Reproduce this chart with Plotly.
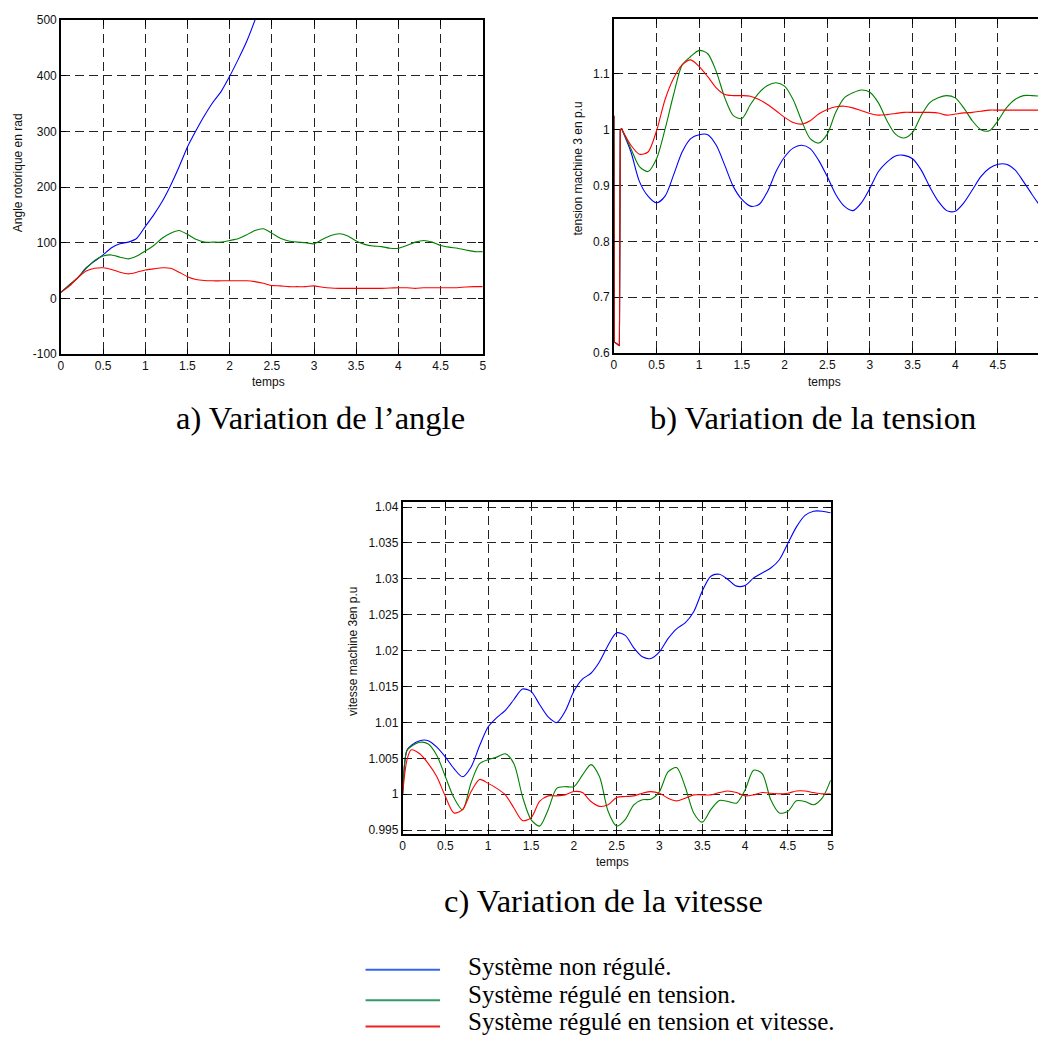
import plotly.graph_objects as go

# ---------------- data ----------------
# (a) rotor angle
t_a = [round(0.1 * i, 1) for i in range(51)]
t_a_blue = [0, 0.1, 0.2, 0.3, 0.4, 0.5, 0.6, 0.7, 0.8, 0.9, 1.0, 1.1, 1.2, 1.3, 1.4, 1.5,
            1.6, 1.7, 1.8, 1.9, 2.0, 2.1, 2.2, 2.3, 2.4]
angle_blue = [10.7, 24, 37, 55, 67, 78, 91, 98, 101, 108, 129, 150, 174, 203, 236, 272,
              301, 328, 352, 372, 399, 429, 461, 500, 545]
angle_green = [10.7, 24, 37, 54, 68, 76, 78, 74, 71, 76,
               85, 95, 108, 117, 122, 115, 106, 101, 101, 101,
               104, 107, 114, 122, 125, 117, 108, 103, 101, 100,
               98, 106, 113, 116, 112, 103, 97, 94, 93, 90,
               90, 95, 101, 104, 101, 95, 92, 90, 87, 84,
               84]
angle_red = [10.7, 22, 37, 49, 54, 55, 52, 47, 44, 47,
             51, 53, 55, 54, 47, 39, 34, 32, 31.5, 31.5,
             31.5, 31.5, 31.5, 30, 27, 23, 22.5, 21, 21, 21,
             22.5, 20, 18.5, 18, 18, 18, 18, 18, 18, 18.5,
             19, 19, 18, 19, 19, 19, 19, 19, 20.5, 21,
             21]

# (b) voltage of machine 3 : initial fault transient (common) + response
t_b_start = [0, 0.005, 0.065, 0.075, 0.09]
v_b_start = [1.025, 0.62, 0.613, 1.0, 1.002]
t_b = [0.09] + [round(0.1 * i, 1) for i in range(2, 51)]
volt_blue = [1.002, 0.96, 0.907, 0.881, 0.869, 0.881, 0.919, 0.96, 0.984, 0.991,
             0.991, 0.972, 0.936, 0.898, 0.875, 0.863, 0.866, 0.889, 0.925, 0.951,
             0.967, 0.972, 0.966, 0.945, 0.916, 0.884, 0.863, 0.855, 0.869, 0.895,
             0.925, 0.942, 0.953, 0.954, 0.948, 0.928, 0.898, 0.872, 0.855, 0.854,
             0.869, 0.892, 0.916, 0.931, 0.938, 0.938, 0.928, 0.907, 0.884, 0.862]
volt_green = [1.002, 0.966, 0.934, 0.925, 0.948, 1.001, 1.063, 1.116, 1.131, 1.142,
              1.136, 1.104, 1.057, 1.025, 1.02, 1.045, 1.066, 1.079, 1.084, 1.078,
              1.054, 1.016, 0.984, 0.976, 0.992, 1.031, 1.057, 1.066, 1.071, 1.067,
              1.048, 1.016, 0.992, 0.985, 0.995, 1.025, 1.048, 1.057, 1.061, 1.057,
              1.039, 1.016, 1.0, 0.998, 1.016, 1.039, 1.054, 1.061, 1.061, 1.06]
volt_red = [1.002, 0.972, 0.956, 0.96, 0.998, 1.054, 1.092, 1.116, 1.125, 1.113,
            1.095, 1.075, 1.063, 1.061, 1.061, 1.06, 1.054, 1.045, 1.034, 1.022,
            1.013, 1.01, 1.016, 1.028, 1.036, 1.041, 1.042, 1.039, 1.034, 1.029,
            1.026, 1.027, 1.029, 1.031, 1.031, 1.031, 1.031, 1.03, 1.026, 1.028,
            1.03, 1.031, 1.033, 1.035, 1.035, 1.035, 1.035, 1.035, 1.035, 1.035]

# (c) speed of machine 3
t_c = [0, 0.05] + [round(0.1 * i, 1) for i in range(1, 51)]
speed_blue = [1.0, 1.0061, 1.0068, 1.00746, 1.00746, 1.00655, 1.00517, 1.00357, 1.00243, 1.0038,
              1.00678, 1.00939, 1.01067, 1.01168, 1.01319, 1.01465, 1.01433, 1.0125, 1.01076, 1.00998,
              1.01158, 1.01433, 1.01603, 1.01685, 1.01845, 1.02074, 1.02248, 1.02212, 1.02038, 1.01914,
              1.01891, 1.01983, 1.02166, 1.02303, 1.02386, 1.02541, 1.0283, 1.03036, 1.03063, 1.0299,
              1.02898, 1.02908, 1.03013, 1.03082, 1.0315, 1.03265, 1.03494, 1.03723, 1.03883, 1.03942,
              1.03942, 1.0392]
speed_green = [1.0, 1.0061, 1.00664, 1.00723, 1.007, 1.0054, 1.00243, 0.9995, 0.99785, 1.0016,
               1.00426, 1.00481, 1.00517, 1.00563, 1.00426, 0.99968, 0.99647, 0.99556, 0.99785, 1.00082,
               1.00105, 1.00105, 1.00266, 1.00412, 1.00243, 0.99762, 0.99556, 0.99647, 0.99853, 0.99922,
               0.99931, 1.00037, 1.00311, 1.00371, 1.00105, 0.99739, 0.99611, 0.99785, 0.99913, 0.99899,
               0.99876, 1.0006, 1.00334, 1.00288, 0.99922, 0.99739, 0.99762, 0.99908, 0.99899, 0.99853,
               0.99945, 1.00197]
speed_red = [1.0, 1.00472, 1.00618, 1.00563, 1.00426, 1.00243, 0.99968, 0.99739, 0.99785, 1.00037,
             1.00206, 1.00151, 1.00082, 0.99991, 0.99808, 0.99634, 0.9967, 0.99899, 0.99977, 0.99977,
             0.99991, 1.00037, 1.00023, 0.99899, 0.99831, 0.99853, 0.99954, 0.99968, 0.99977, 1.00014,
             1.00037, 1.00014, 0.99945, 0.99908, 0.99945, 0.99991, 0.99991, 0.99991, 1.00023, 1.00046,
             1.00023, 0.99977, 0.99991, 1.00023, 1.00014, 1.00005, 1.00014, 1.00046, 1.00046, 1.00023,
             1.00005, 1.00005]

x_ticks = [0, 0.5, 1, 1.5, 2, 2.5, 3, 3.5, 4, 4.5, 5]
x_ticktext = ["0", "0.5", "1", "1.5", "2", "2.5", "3", "3.5", "4", "4.5", "5"]
a_yticks = [-100, 0, 100, 200, 300, 400, 500]
a_yticktext = ["-100", "0", "100", "200", "300", "400", "500"]
b_yticks = [0.6, 0.7, 0.8, 0.9, 1.0, 1.1]
b_yticktext = ["0.6", "0.7", "0.8", "0.9", "1", "1.1"]
c_yticks = [0.995, 1.0, 1.005, 1.01, 1.015, 1.02, 1.025, 1.03, 1.035, 1.04]
c_yticktext = ["0.995", "1", "1.005", "1.01", "1.015", "1.02", "1.025", "1.03", "1.035", "1.04"]

series_names = ["Système non régulé.", "Système régulé en tension.",
                "Système régulé en tension et vitesse."]
colors = ["#0000FF", "#008000", "#FF0000"]
legend_colors = ["#3366EE", "#339966", "#EE2222"]

captions = ["a) Variation de l’angle", "b) Variation de la tension", "c) Variation de la vitesse"]
ytitles = ["Angle rotorique en rad", "tension machine 3 en p.u", "vitesse machine 3en p.u"]
xtitle = "temps"

# ---------------- figure ----------------
W, H = 1042, 1046
fig = go.Figure()

def px_x(x):
    return x / W

def px_y(y):
    return 1 - y / H

LW = 1.1
# (a)
fig.add_trace(go.Scatter(x=t_a_blue, y=angle_blue, mode="lines", line=dict(color=colors[0], width=LW, shape="spline", smoothing=0.6), xaxis="x", yaxis="y", showlegend=False))
fig.add_trace(go.Scatter(x=t_a, y=angle_green, mode="lines", line=dict(color=colors[1], width=LW, shape="spline", smoothing=0.6), xaxis="x", yaxis="y", showlegend=False))
fig.add_trace(go.Scatter(x=t_a, y=angle_red, mode="lines", line=dict(color=colors[2], width=LW, shape="spline", smoothing=0.6), xaxis="x", yaxis="y", showlegend=False))

# (b)
for vals, col in zip([volt_blue, volt_green, volt_red], colors):
    fig.add_trace(go.Scatter(x=t_b_start, y=v_b_start, mode="lines", line=dict(color=col, width=LW), xaxis="x2", yaxis="y2", showlegend=False))
    fig.add_trace(go.Scatter(x=t_b, y=vals, mode="lines", line=dict(color=col, width=LW, shape="spline", smoothing=0.8), xaxis="x2", yaxis="y2", showlegend=False))

# (c)
for vals, col in zip([speed_blue, speed_green, speed_red], colors):
    fig.add_trace(go.Scatter(x=t_c, y=vals, mode="lines", line=dict(color=col, width=LW, shape="spline", smoothing=0.8), xaxis="x3", yaxis="y3", showlegend=False))

tickfont = dict(family="Liberation Sans, Arial", size=12, color="#111")
common = dict(showgrid=True, gridcolor="#222", griddash="9px,5px", gridwidth=1,
              showline=True, linecolor="#000", linewidth=1.5, ticks="inside",
              ticklen=5, tickcolor="#000", tickfont=tickfont, zeroline=False)

fig.update_layout(
    width=W, height=H, margin=dict(l=0, r=0, t=0, b=0),
    paper_bgcolor="white", plot_bgcolor="white",
    xaxis=dict(domain=[px_x(58.3), px_x(483)], range=[0, 5], tickvals=x_ticks, ticktext=x_ticktext,
               anchor="y", mirror="allticks", **common),
    yaxis=dict(domain=[px_y(351.7), px_y(13.3)], range=[-100, 500], tickvals=a_yticks, ticktext=a_yticktext,
               anchor="x", mirror="allticks", **common),
    xaxis2=dict(domain=[px_x(615), 1.0], range=[0, (1042 - 615) / 85.92], tickvals=x_ticks, ticktext=x_ticktext,
                anchor="y2", mirror="allticks", **common),
    yaxis2=dict(domain=[px_y(350.7), px_y(12)], range=[0.6, 1.1985], tickvals=b_yticks, ticktext=b_yticktext,
                anchor="x2", mirror=False, **common),
    xaxis3=dict(domain=[px_x(402.3), px_x(833.3)], range=[0, 5], tickvals=x_ticks, ticktext=x_ticktext,
                anchor="y3", mirror="allticks", **common),
    yaxis3=dict(domain=[px_y(838.3), px_y(501.7)], range=[0.99445, 1.0407], tickvals=c_yticks, ticktext=c_yticktext,
                anchor="x3", mirror="allticks", **common),
)

annotations = []
titlefont = dict(family="Liberation Sans, Arial", size=12, color="#111")
# axis titles
for (xc, yc, txt) in [(15, 167.5, ytitles[0]), (579.3, 163.3, ytitles[1]), (351.7, 653.3, ytitles[2])]:
    annotations.append(dict(x=px_x(xc), y=px_y(yc), xref="paper", yref="paper", text=txt,
                            textangle=-90, showarrow=False, xanchor="center", yanchor="middle", font=titlefont))
for (xc, yc) in [(267, 380), (826.7, 380), (614, 866.7)]:
    annotations.append(dict(x=px_x(xc), y=px_y(yc), xref="paper", yref="paper", text=xtitle,
                            showarrow=False, xanchor="center", yanchor="middle", font=titlefont))
# captions
capfont = dict(family="Liberation Serif, Times New Roman", size=32.5, color="#000")
for (xc, yc, txt) in [(320, 417, captions[0]), (815, 417, captions[1]), (605, 906, captions[2])]:
    annotations.append(dict(x=px_x(xc), y=px_y(yc), xref="paper", yref="paper", text=txt,
                            showarrow=False, xanchor="center", yanchor="middle", font=capfont))
# legend
legfont = dict(family="Liberation Serif, Times New Roman", size=25, color="#000")
shapes = []
for (ly, ty, name, col) in zip([975.7, 1006.7, 1033.3], [973, 1001, 1028], series_names, legend_colors):
    shapes.append(dict(type="line", xref="paper", yref="paper", x0=px_x(365), x1=px_x(440),
                       y0=px_y(ly), y1=px_y(ly), line=dict(color=col, width=2)))
    annotations.append(dict(x=px_x(466), y=px_y(ty), xref="paper", yref="paper", text=name,
                            showarrow=False, xanchor="left", yanchor="middle", font=legfont))

fig.update_layout(annotations=annotations, shapes=shapes)
fig.write_html("out.html")
